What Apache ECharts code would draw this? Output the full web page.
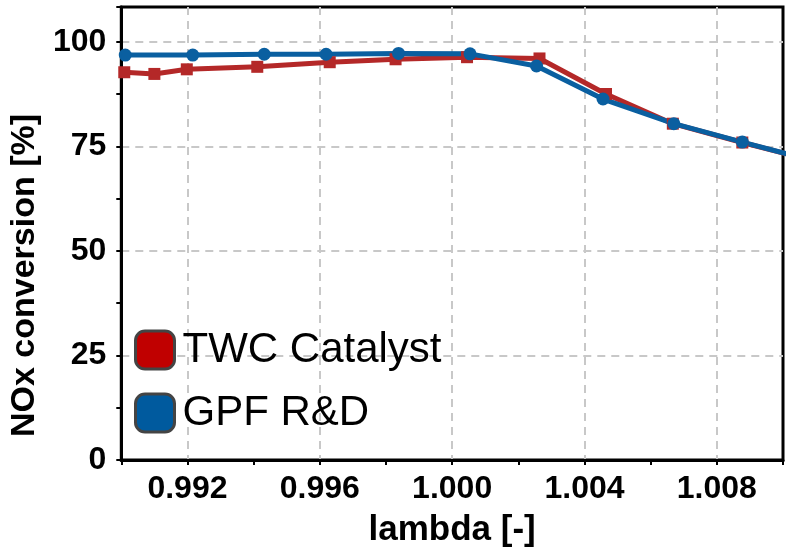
<!DOCTYPE html>
<html>
<head>
<meta charset="utf-8">
<script src="https://cdn.jsdelivr.net/npm/echarts@6/dist/echarts.min.js"></script>
<style>
  html, body { margin: 0; padding: 0; background: #fff; }
  #container { width: 788px; height: 553px; }
</style>
</head>
<body>
<div id="container"></div>
<script>
// 数据：点
var lambdaTWC = [0.99009, 0.99100, 0.99198, 0.99411, 0.99630, 0.99829, 1.00045, 1.00264, 1.00465, 1.00667, 1.00877, 1.01020];
var noxTWC    = [92.7, 92.3, 93.4, 94.0, 95.1, 95.8, 96.3, 96.0, 87.5, 80.4, 75.9, 73.0];
var lambdaGPF = [0.99012, 0.99216, 0.99432, 0.99619, 0.99838, 1.00054, 1.00255, 1.00456, 1.00670, 1.00877, 1.01020];
var noxGPF    = [96.8, 96.8, 97.0, 97.0, 97.2, 97.1, 94.2, 86.3, 80.4, 76.0, 73.0];
var xTickLabels = ['0.992', '0.996', '1.000', '1.004', '1.008'];
var yTickLabels = [0, 25, 50, 75, 100];
var seriesNames = ['TWC Catalyst', 'GPF R&D'];

var FONT = "'Liberation Sans', Arial, sans-serif";

function pairs(xs, ys) {
    var out = [];
    for (var i = 0; i < xs.length; i++) {
        out.push([xs[i], ys[i]]);
    }
    return out;
}

var myChart = echarts.init(document.getElementById('container'));

var option = {
    animation: false,
    backgroundColor: '#fff',
    grid: {
        left: 117, right: 5, top: 7, bottom: 91,
        show: true,
        borderColor: '#000',
        borderWidth: 3,
        backgroundColor: 'transparent'
    },
    legend: {
        orient: 'vertical',
        left: 134,
        top: 329,
        padding: 0,
        icon: 'roundRect',
        itemWidth: 39,
        itemHeight: 38,
        itemGap: 21,
        textStyle: { fontFamily: FONT, fontSize: 42, color: '#000', padding: [0, 0, 0, 3] },
        data: [
            { name: seriesNames[0], itemStyle: { color: '#c00000', borderColor: '#444', borderWidth: 3 } },
            { name: seriesNames[1], itemStyle: { color: '#005a9e', borderColor: '#444', borderWidth: 3 } }
        ]
    },
    xAxis: {
        type: 'value',
        min: 0.990,
        max: 1.010,
        interval: 0.002,
        name: 'lambda [-]',
        nameLocation: 'middle',
        nameGap: 53,
        nameTextStyle: { fontFamily: FONT, fontSize: 35, fontWeight: 'bold', color: '#000' },
        axisLine: { show: true, lineStyle: { color: '#000', width: 3 } },
        axisTick: { show: true, length: 5, lineStyle: { color: '#000', width: 2 } },
        axisLabel: {
            margin: 13,
            fontFamily: FONT, fontSize: 32, fontWeight: 'bold', color: '#000',
            showMinLabel: true, showMaxLabel: true,
            formatter: function (v) {
                var s = v.toFixed(3);
                return xTickLabels.indexOf(s) >= 0 ? s : '';
            }
        },
        splitLine: {
            show: true,
            lineStyle: { color: ['transparent', '#c8c8c8'], width: 2, type: [8, 6] }
        }
    },
    yAxis: {
        type: 'value',
        min: 0,
        max: 108.3,
        interval: 12.5,
        name: 'NOx conversion [%]',
        nameLocation: 'middle',
        nameGap: 58,
        nameRotate: 90,
        nameTextStyle: { fontFamily: FONT, fontSize: 34, fontWeight: 'bold', color: '#000', padding: [0, 84, 0, 0] },
        axisLine: { show: true, lineStyle: { color: '#000', width: 3 } },
        axisTick: { show: true, length: 5, lineStyle: { color: '#000', width: 2 } },
        axisLabel: {
            margin: 15,
            fontFamily: FONT, fontSize: 32, fontWeight: 'bold', color: '#000',
            formatter: function (v) {
                return yTickLabels.indexOf(v) >= 0 ? String(v) : '';
            }
        },
        splitLine: {
            show: true,
            lineStyle: { color: ['#c8c8c8', 'transparent'], width: 2, type: [8, 6] }
        }
    },
    series: [
        {
            name: seriesNames[0],
            type: 'line',
            clip: true,
            data: pairs(lambdaTWC, noxTWC),
            symbol: 'rect',
            symbolSize: 12,
            itemStyle: { color: '#b42828' },
            lineStyle: { color: '#b42828', width: 5 }
        },
        {
            name: seriesNames[1],
            type: 'line',
            clip: true,
            data: pairs(lambdaGPF, noxGPF),
            symbol: 'circle',
            symbolSize: 13,
            itemStyle: { color: '#0a5fa0' },
            lineStyle: { color: '#0a5fa0', width: 5 }
        }
    ]
};

myChart.setOption(option, true);

window.onresize = function () {
    myChart.resize();
};
</script>
</body>
</html>
